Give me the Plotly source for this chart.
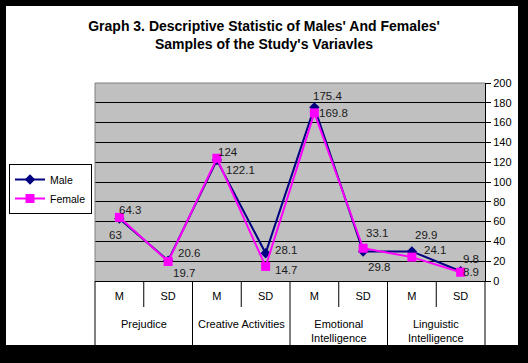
import plotly.graph_objects as go

groups = ["Prejudice", "Creative Activities", "Emotional<br>Intelligence", "Linguistic<br>Intelligence"]
stats = ["M", "SD", "M", "SD", "M", "SD", "M", "SD"]
male = [63, 20.6, 122.1, 28.1, 175.4, 29.8, 29.9, 9.8]
female = [64.3, 19.7, 124, 14.7, 169.8, 33.1, 24.1, 8.9]
yticks = [0, 20, 40, 60, 80, 100, 120, 140, 160, 180, 200]

# label offsets in pixels (dx right, dy up) relative to each point
male_dx = [-4, 21, 24, 20, 13, 16, 14, 10]
male_dy = [-16, 8, -10, 3, 11, -15, 16, 12]
female_dx = [11, 16, 11, 20, 19, 14, 23, 10]
female_dy = [7, -11, 6, -4, 0, 15, 7, 0]

FONT = "Liberation Sans, Arial, sans-serif"
L, R, T, B = 95, 43, 83, 82
W, H = 528, 363
pw, ph = W - L - R, H - T - B

def px(x):
    return (x - L) / pw

def py(y):
    return (H - B - y) / ph

xs = list(range(len(stats)))

fig = go.Figure()
fig.add_trace(go.Scatter(
    x=xs, y=male, name="Male", mode="lines+markers",
    line=dict(color="#000080", width=2),
    marker=dict(symbol="diamond", size=8, color="#000080"), cliponaxis=False))
fig.add_trace(go.Scatter(
    x=xs, y=female, name="Female", mode="lines+markers",
    line=dict(color="#FF00FF", width=2),
    marker=dict(symbol="square", size=9, color="#FF00FF"), cliponaxis=False))

annotations = []
for vals, dxs, dys in ((male, male_dx, male_dy), (female, female_dx, female_dy)):
    for i, v in enumerate(vals):
        annotations.append(dict(x=xs[i], y=v, xref="x", yref="y", text=str(v), showarrow=False,
                                xshift=dxs[i], yshift=dys[i], xanchor="center", yanchor="middle",
                                font=dict(family=FONT, size=11.5, color="#1a1a1a")))
for g, name in enumerate(groups):
    annotations.append(dict(x=2 * g + 0.5, y=py(316), xref="x", yref="paper", text=name,
                            showarrow=False, xanchor="center", yanchor="top",
                            font=dict(family=FONT, size=11, color="black")))

shapes = [
    dict(type="rect", xref="paper", yref="paper", x0=px(6), x1=px(518), y0=py(345), y1=py(6),
         fillcolor="white", line=dict(width=0), layer="below"),
    dict(type="rect", xref="paper", yref="paper", x0=0, x1=1, y0=0, y1=1,
         fillcolor="#C0C0C0", line=dict(width=0), layer="below"),
    dict(type="line", xref="paper", yref="paper", x0=0, x1=1, y0=1, y1=1,
         line=dict(color="#808080", width=1), layer="above"),
    dict(type="line", xref="paper", yref="paper", x0=0, x1=0, y0=0, y1=1,
         line=dict(color="#808080", width=1), layer="above"),
]
# inner dividers (between M and SD)
for g in range(len(groups)):
    shapes.append(dict(type="line", xref="x", yref="paper", x0=2 * g + 0.5, x1=2 * g + 0.5,
                       y0=0, y1=py(307), line=dict(color="black", width=1)))
# outer dividers
for g in range(1, len(groups)):
    shapes.append(dict(type="line", xref="x", yref="paper", x0=2 * g - 0.5, x1=2 * g - 0.5,
                       y0=0, y1=py(345), line=dict(color="black", width=1)))
for edge in (0, 1):
    shapes.append(dict(type="line", xref="x domain", yref="paper", x0=edge, x1=edge,
                       y0=0, y1=py(345), line=dict(color="black", width=1)))

fig.update_layout(
    width=W, height=H,
    margin=dict(l=L, r=R, t=T, b=B, autoexpand=False),
    paper_bgcolor="black", plot_bgcolor="#C0C0C0",
    font=dict(family=FONT, size=11, color="black"),
    title=dict(text="<b>Graph 3. Descriptive Statistic of Males' And Females'<br>Samples of the Study's Variavles</b>",
               x=0.5, xanchor="center", y=1 - 31 / H, yanchor="top",
               font=dict(family=FONT, size=14, color="black")),
    showlegend=True,
    legend=dict(x=px(9), y=py(164), xanchor="left", yanchor="top",
                bgcolor="white", bordercolor="black", borderwidth=1,
                font=dict(family=FONT, size=10.5, color="black")),
    shapes=shapes,
    annotations=annotations,
    xaxis=dict(range=[-0.5, 7.5], tickvals=xs, ticktext=stats, showgrid=False, zeroline=False,
               showline=True, linecolor="black", linewidth=1, ticks="outside", ticklen=5,
               tickcolor="rgba(0,0,0,0)", tickfont=dict(family=FONT, size=11, color="black")),
    yaxis=dict(side="right", range=[0, 200], tickvals=yticks, showgrid=True, gridcolor="black",
               gridwidth=1, showline=True, linecolor="black", ticks="outside",
               ticklen=5, tickcolor="black", zeroline=False,
               tickfont=dict(family=FONT, size=11, color="black")),
)
fig.write_html("out.html", config={"displayModeBar": False},
               post_script="document.body.style.margin='0px';document.body.style.background='black';")
